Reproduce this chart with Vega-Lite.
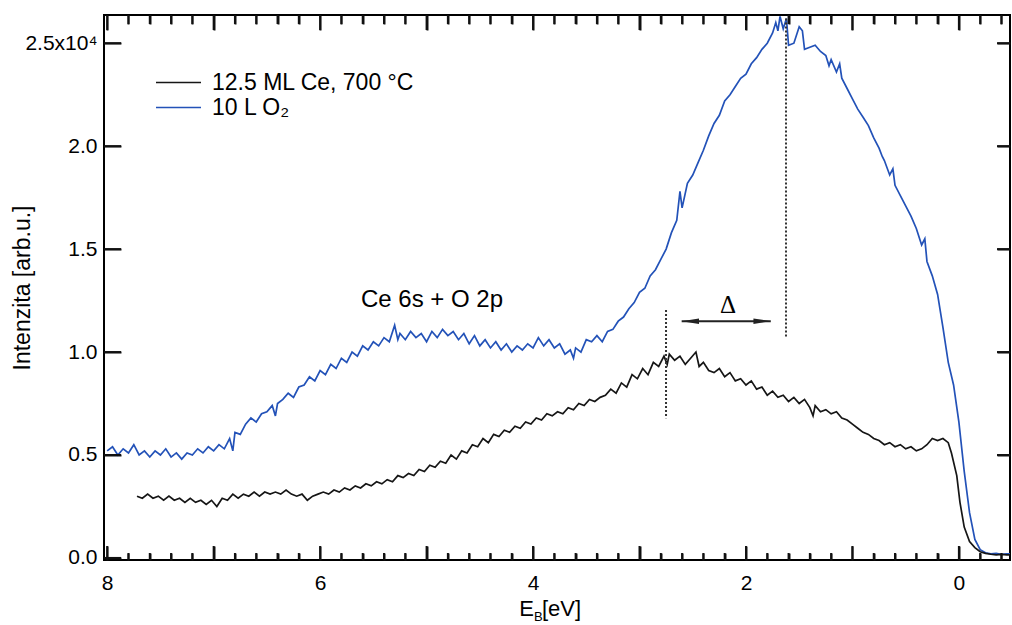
{
  "$schema": "https://vega.github.io/schema/vega-lite/v6.json",
  "width": 906,
  "height": 545,
  "autosize": {"type": "none"},
  "padding": {"left": 104, "top": 15, "right": 2, "bottom": 65},
  "background": "white",
  "config": {
    "font": "Liberation Sans",
    "view": {"stroke": "black", "strokeWidth": 2},
    "axis": {"domain": false, "grid": false, "tickColor": "#111111", "tickWidth": 2, "labelColor": "black", "labelFont": "Liberation Sans", "labelFontSize": 21, "titleFont": "Liberation Sans", "titleFontSize": 23, "titleFontWeight": "normal", "titleColor": "black"}
  },
  "datasets": {
    "majorX": [{"E": 8}, {"E": 7}, {"E": 6}, {"E": 5}, {"E": 4}, {"E": 3}, {"E": 2}, {"E": 1}, {"E": 0}],
    "minorX": [{"E":7.8},{"E":7.6},{"E":7.4},{"E":7.2},{"E":6.8},{"E":6.6},{"E":6.4},{"E":6.2},{"E":5.8},{"E":5.6},{"E":5.4},{"E":5.2},{"E":4.8},{"E":4.6},{"E":4.4},{"E":4.2},{"E":3.8},{"E":3.6},{"E":3.4},{"E":3.2},{"E":2.8},{"E":2.6},{"E":2.4},{"E":2.2},{"E":1.8},{"E":1.6},{"E":1.4},{"E":1.2},{"E":0.8},{"E":0.6},{"E":0.4},{"E":0.2},{"E":-0.2},{"E":-0.4}],
    "majorY": [{"I": 0}, {"I": 0.5}, {"I": 1}, {"I": 1.5}, {"I": 2}, {"I": 2.5}],
    "curves": [
      {"E":8.00,"I":0.52,"s":"O"},{"E":7.95,"I":0.54,"s":"O"},{"E":7.90,"I":0.50,"s":"O"},{"E":7.85,"I":0.53,"s":"O"},{"E":7.80,"I":0.51,"s":"O"},{"E":7.75,"I":0.55,"s":"O"},{"E":7.70,"I":0.50,"s":"O"},{"E":7.65,"I":0.52,"s":"O"},{"E":7.60,"I":0.49,"s":"O"},{"E":7.55,"I":0.52,"s":"O"},{"E":7.50,"I":0.50,"s":"O"},{"E":7.45,"I":0.53,"s":"O"},{"E":7.40,"I":0.49,"s":"O"},{"E":7.35,"I":0.51,"s":"O"},{"E":7.30,"I":0.48,"s":"O"},{"E":7.25,"I":0.51,"s":"O"},{"E":7.20,"I":0.50,"s":"O"},{"E":7.15,"I":0.53,"s":"O"},{"E":7.10,"I":0.51,"s":"O"},{"E":7.05,"I":0.54,"s":"O"},{"E":7.00,"I":0.52,"s":"O"},{"E":6.95,"I":0.55,"s":"O"},{"E":6.90,"I":0.53,"s":"O"},{"E":6.85,"I":0.58,"s":"O"},{"E":6.82,"I":0.52,"s":"O"},{"E":6.80,"I":0.61,"s":"O"},{"E":6.75,"I":0.60,"s":"O"},{"E":6.70,"I":0.65,"s":"O"},{"E":6.65,"I":0.68,"s":"O"},{"E":6.60,"I":0.66,"s":"O"},{"E":6.55,"I":0.70,"s":"O"},{"E":6.50,"I":0.71,"s":"O"},{"E":6.45,"I":0.74,"s":"O"},{"E":6.42,"I":0.69,"s":"O"},{"E":6.40,"I":0.75,"s":"O"},{"E":6.35,"I":0.77,"s":"O"},{"E":6.30,"I":0.80,"s":"O"},{"E":6.25,"I":0.78,"s":"O"},{"E":6.20,"I":0.83,"s":"O"},{"E":6.15,"I":0.84,"s":"O"},{"E":6.10,"I":0.88,"s":"O"},{"E":6.05,"I":0.86,"s":"O"},{"E":6.00,"I":0.91,"s":"O"},{"E":5.95,"I":0.89,"s":"O"},{"E":5.90,"I":0.94,"s":"O"},{"E":5.85,"I":0.92,"s":"O"},{"E":5.80,"I":0.97,"s":"O"},{"E":5.75,"I":0.95,"s":"O"},{"E":5.70,"I":1.00,"s":"O"},{"E":5.65,"I":0.98,"s":"O"},{"E":5.60,"I":1.03,"s":"O"},{"E":5.55,"I":1.01,"s":"O"},{"E":5.50,"I":1.05,"s":"O"},{"E":5.45,"I":1.03,"s":"O"},{"E":5.40,"I":1.07,"s":"O"},{"E":5.35,"I":1.05,"s":"O"},{"E":5.30,"I":1.13,"s":"O"},{"E":5.27,"I":1.06,"s":"O"},{"E":5.25,"I":1.09,"s":"O"},{"E":5.20,"I":1.06,"s":"O"},{"E":5.15,"I":1.10,"s":"O"},{"E":5.10,"I":1.07,"s":"O"},{"E":5.05,"I":1.09,"s":"O"},{"E":5.00,"I":1.05,"s":"O"},{"E":4.95,"I":1.10,"s":"O"},{"E":4.90,"I":1.07,"s":"O"},{"E":4.85,"I":1.11,"s":"O"},{"E":4.80,"I":1.08,"s":"O"},{"E":4.75,"I":1.10,"s":"O"},{"E":4.70,"I":1.06,"s":"O"},{"E":4.65,"I":1.09,"s":"O"},{"E":4.60,"I":1.04,"s":"O"},{"E":4.55,"I":1.08,"s":"O"},{"E":4.50,"I":1.03,"s":"O"},{"E":4.45,"I":1.06,"s":"O"},{"E":4.40,"I":1.02,"s":"O"},{"E":4.35,"I":1.05,"s":"O"},{"E":4.30,"I":1.01,"s":"O"},{"E":4.25,"I":1.04,"s":"O"},{"E":4.20,"I":1.00,"s":"O"},{"E":4.15,"I":1.03,"s":"O"},{"E":4.10,"I":1.01,"s":"O"},{"E":4.05,"I":1.04,"s":"O"},{"E":4.00,"I":1.02,"s":"O"},{"E":3.95,"I":1.07,"s":"O"},{"E":3.90,"I":1.03,"s":"O"},{"E":3.85,"I":1.06,"s":"O"},{"E":3.80,"I":1.02,"s":"O"},{"E":3.75,"I":1.04,"s":"O"},{"E":3.70,"I":0.99,"s":"O"},{"E":3.65,"I":1.01,"s":"O"},{"E":3.62,"I":0.97,"s":"O"},{"E":3.60,"I":1.02,"s":"O"},{"E":3.55,"I":1.00,"s":"O"},{"E":3.50,"I":1.06,"s":"O"},{"E":3.45,"I":1.05,"s":"O"},{"E":3.40,"I":1.08,"s":"O"},{"E":3.35,"I":1.05,"s":"O"},{"E":3.30,"I":1.10,"s":"O"},{"E":3.25,"I":1.11,"s":"O"},{"E":3.20,"I":1.15,"s":"O"},{"E":3.15,"I":1.17,"s":"O"},{"E":3.10,"I":1.21,"s":"O"},{"E":3.05,"I":1.24,"s":"O"},{"E":3.00,"I":1.29,"s":"O"},{"E":2.95,"I":1.31,"s":"O"},{"E":2.90,"I":1.37,"s":"O"},{"E":2.85,"I":1.40,"s":"O"},{"E":2.80,"I":1.45,"s":"O"},{"E":2.75,"I":1.50,"s":"O"},{"E":2.70,"I":1.58,"s":"O"},{"E":2.65,"I":1.64,"s":"O"},{"E":2.62,"I":1.78,"s":"O"},{"E":2.60,"I":1.70,"s":"O"},{"E":2.55,"I":1.82,"s":"O"},{"E":2.50,"I":1.86,"s":"O"},{"E":2.45,"I":1.92,"s":"O"},{"E":2.40,"I":1.98,"s":"O"},{"E":2.35,"I":2.05,"s":"O"},{"E":2.30,"I":2.11,"s":"O"},{"E":2.25,"I":2.15,"s":"O"},{"E":2.20,"I":2.22,"s":"O"},{"E":2.15,"I":2.25,"s":"O"},{"E":2.10,"I":2.29,"s":"O"},{"E":2.05,"I":2.33,"s":"O"},{"E":2.00,"I":2.35,"s":"O"},{"E":1.95,"I":2.40,"s":"O"},{"E":1.90,"I":2.43,"s":"O"},{"E":1.85,"I":2.47,"s":"O"},{"E":1.80,"I":2.50,"s":"O"},{"E":1.75,"I":2.55,"s":"O"},{"E":1.72,"I":2.60,"s":"O"},{"E":1.70,"I":2.56,"s":"O"},{"E":1.68,"I":2.63,"s":"O"},{"E":1.65,"I":2.57,"s":"O"},{"E":1.62,"I":2.62,"s":"O"},{"E":1.60,"I":2.49,"s":"O"},{"E":1.55,"I":2.50,"s":"O"},{"E":1.50,"I":2.58,"s":"O"},{"E":1.47,"I":2.56,"s":"O"},{"E":1.45,"I":2.47,"s":"O"},{"E":1.40,"I":2.48,"s":"O"},{"E":1.35,"I":2.49,"s":"O"},{"E":1.30,"I":2.46,"s":"O"},{"E":1.25,"I":2.44,"s":"O"},{"E":1.22,"I":2.39,"s":"O"},{"E":1.20,"I":2.42,"s":"O"},{"E":1.15,"I":2.36,"s":"O"},{"E":1.12,"I":2.40,"s":"O"},{"E":1.10,"I":2.33,"s":"O"},{"E":1.05,"I":2.28,"s":"O"},{"E":1.00,"I":2.23,"s":"O"},{"E":0.95,"I":2.18,"s":"O"},{"E":0.90,"I":2.14,"s":"O"},{"E":0.85,"I":2.10,"s":"O"},{"E":0.80,"I":2.04,"s":"O"},{"E":0.75,"I":1.99,"s":"O"},{"E":0.72,"I":1.95,"s":"O"},{"E":0.70,"I":1.93,"s":"O"},{"E":0.65,"I":1.86,"s":"O"},{"E":0.62,"I":1.89,"s":"O"},{"E":0.60,"I":1.81,"s":"O"},{"E":0.55,"I":1.76,"s":"O"},{"E":0.50,"I":1.71,"s":"O"},{"E":0.45,"I":1.66,"s":"O"},{"E":0.40,"I":1.60,"s":"O"},{"E":0.35,"I":1.52,"s":"O"},{"E":0.32,"I":1.55,"s":"O"},{"E":0.30,"I":1.44,"s":"O"},{"E":0.25,"I":1.37,"s":"O"},{"E":0.20,"I":1.28,"s":"O"},{"E":0.15,"I":1.12,"s":"O"},{"E":0.10,"I":0.95,"s":"O"},{"E":0.05,"I":0.84,"s":"O"},{"E":0.00,"I":0.66,"s":"O"},{"E":-0.05,"I":0.42,"s":"O"},{"E":-0.10,"I":0.22,"s":"O"},{"E":-0.15,"I":0.09,"s":"O"},{"E":-0.20,"I":0.04,"s":"O"},{"E":-0.25,"I":0.025,"s":"O"},{"E":-0.30,"I":0.02,"s":"O"},{"E":-0.35,"I":0.022,"s":"O"},{"E":-0.40,"I":0.018,"s":"O"},{"E":-0.45,"I":0.02,"s":"O"},{"E":-0.48,"I":0.02,"s":"O"},
      {"E":7.72,"I":0.30,"s":"Ce"},{"E":7.67,"I":0.29,"s":"Ce"},{"E":7.62,"I":0.31,"s":"Ce"},{"E":7.57,"I":0.29,"s":"Ce"},{"E":7.52,"I":0.30,"s":"Ce"},{"E":7.47,"I":0.28,"s":"Ce"},{"E":7.42,"I":0.30,"s":"Ce"},{"E":7.37,"I":0.28,"s":"Ce"},{"E":7.32,"I":0.29,"s":"Ce"},{"E":7.27,"I":0.27,"s":"Ce"},{"E":7.22,"I":0.29,"s":"Ce"},{"E":7.17,"I":0.27,"s":"Ce"},{"E":7.12,"I":0.28,"s":"Ce"},{"E":7.07,"I":0.26,"s":"Ce"},{"E":7.02,"I":0.28,"s":"Ce"},{"E":6.97,"I":0.25,"s":"Ce"},{"E":6.92,"I":0.29,"s":"Ce"},{"E":6.87,"I":0.28,"s":"Ce"},{"E":6.82,"I":0.31,"s":"Ce"},{"E":6.77,"I":0.29,"s":"Ce"},{"E":6.72,"I":0.31,"s":"Ce"},{"E":6.67,"I":0.30,"s":"Ce"},{"E":6.62,"I":0.32,"s":"Ce"},{"E":6.57,"I":0.30,"s":"Ce"},{"E":6.52,"I":0.32,"s":"Ce"},{"E":6.47,"I":0.31,"s":"Ce"},{"E":6.42,"I":0.32,"s":"Ce"},{"E":6.37,"I":0.31,"s":"Ce"},{"E":6.32,"I":0.33,"s":"Ce"},{"E":6.27,"I":0.31,"s":"Ce"},{"E":6.22,"I":0.30,"s":"Ce"},{"E":6.17,"I":0.31,"s":"Ce"},{"E":6.12,"I":0.28,"s":"Ce"},{"E":6.07,"I":0.30,"s":"Ce"},{"E":6.02,"I":0.31,"s":"Ce"},{"E":5.97,"I":0.32,"s":"Ce"},{"E":5.92,"I":0.31,"s":"Ce"},{"E":5.87,"I":0.33,"s":"Ce"},{"E":5.82,"I":0.32,"s":"Ce"},{"E":5.77,"I":0.34,"s":"Ce"},{"E":5.72,"I":0.33,"s":"Ce"},{"E":5.67,"I":0.35,"s":"Ce"},{"E":5.62,"I":0.34,"s":"Ce"},{"E":5.57,"I":0.36,"s":"Ce"},{"E":5.52,"I":0.35,"s":"Ce"},{"E":5.47,"I":0.37,"s":"Ce"},{"E":5.42,"I":0.36,"s":"Ce"},{"E":5.37,"I":0.38,"s":"Ce"},{"E":5.32,"I":0.37,"s":"Ce"},{"E":5.27,"I":0.40,"s":"Ce"},{"E":5.22,"I":0.39,"s":"Ce"},{"E":5.17,"I":0.41,"s":"Ce"},{"E":5.12,"I":0.40,"s":"Ce"},{"E":5.07,"I":0.43,"s":"Ce"},{"E":5.02,"I":0.42,"s":"Ce"},{"E":4.97,"I":0.45,"s":"Ce"},{"E":4.92,"I":0.44,"s":"Ce"},{"E":4.87,"I":0.47,"s":"Ce"},{"E":4.82,"I":0.46,"s":"Ce"},{"E":4.77,"I":0.50,"s":"Ce"},{"E":4.72,"I":0.48,"s":"Ce"},{"E":4.67,"I":0.52,"s":"Ce"},{"E":4.62,"I":0.51,"s":"Ce"},{"E":4.57,"I":0.55,"s":"Ce"},{"E":4.52,"I":0.54,"s":"Ce"},{"E":4.47,"I":0.58,"s":"Ce"},{"E":4.42,"I":0.56,"s":"Ce"},{"E":4.37,"I":0.60,"s":"Ce"},{"E":4.32,"I":0.59,"s":"Ce"},{"E":4.27,"I":0.62,"s":"Ce"},{"E":4.22,"I":0.61,"s":"Ce"},{"E":4.17,"I":0.64,"s":"Ce"},{"E":4.12,"I":0.63,"s":"Ce"},{"E":4.07,"I":0.66,"s":"Ce"},{"E":4.02,"I":0.65,"s":"Ce"},{"E":3.97,"I":0.68,"s":"Ce"},{"E":3.92,"I":0.67,"s":"Ce"},{"E":3.87,"I":0.70,"s":"Ce"},{"E":3.82,"I":0.69,"s":"Ce"},{"E":3.77,"I":0.71,"s":"Ce"},{"E":3.72,"I":0.70,"s":"Ce"},{"E":3.67,"I":0.73,"s":"Ce"},{"E":3.62,"I":0.72,"s":"Ce"},{"E":3.57,"I":0.75,"s":"Ce"},{"E":3.52,"I":0.74,"s":"Ce"},{"E":3.47,"I":0.77,"s":"Ce"},{"E":3.42,"I":0.76,"s":"Ce"},{"E":3.37,"I":0.78,"s":"Ce"},{"E":3.32,"I":0.79,"s":"Ce"},{"E":3.27,"I":0.82,"s":"Ce"},{"E":3.22,"I":0.80,"s":"Ce"},{"E":3.17,"I":0.85,"s":"Ce"},{"E":3.12,"I":0.83,"s":"Ce"},{"E":3.07,"I":0.89,"s":"Ce"},{"E":3.02,"I":0.87,"s":"Ce"},{"E":2.97,"I":0.92,"s":"Ce"},{"E":2.92,"I":0.89,"s":"Ce"},{"E":2.87,"I":0.95,"s":"Ce"},{"E":2.82,"I":0.93,"s":"Ce"},{"E":2.77,"I":0.98,"s":"Ce"},{"E":2.74,"I":0.94,"s":"Ce"},{"E":2.72,"I":0.99,"s":"Ce"},{"E":2.67,"I":0.96,"s":"Ce"},{"E":2.62,"I":0.98,"s":"Ce"},{"E":2.57,"I":0.94,"s":"Ce"},{"E":2.52,"I":0.97,"s":"Ce"},{"E":2.47,"I":1.00,"s":"Ce"},{"E":2.44,"I":0.93,"s":"Ce"},{"E":2.40,"I":0.95,"s":"Ce"},{"E":2.35,"I":0.91,"s":"Ce"},{"E":2.30,"I":0.90,"s":"Ce"},{"E":2.25,"I":0.92,"s":"Ce"},{"E":2.20,"I":0.88,"s":"Ce"},{"E":2.15,"I":0.90,"s":"Ce"},{"E":2.10,"I":0.86,"s":"Ce"},{"E":2.05,"I":0.87,"s":"Ce"},{"E":2.00,"I":0.84,"s":"Ce"},{"E":1.95,"I":0.86,"s":"Ce"},{"E":1.90,"I":0.82,"s":"Ce"},{"E":1.85,"I":0.83,"s":"Ce"},{"E":1.80,"I":0.79,"s":"Ce"},{"E":1.75,"I":0.81,"s":"Ce"},{"E":1.70,"I":0.78,"s":"Ce"},{"E":1.65,"I":0.79,"s":"Ce"},{"E":1.60,"I":0.76,"s":"Ce"},{"E":1.55,"I":0.78,"s":"Ce"},{"E":1.50,"I":0.75,"s":"Ce"},{"E":1.45,"I":0.77,"s":"Ce"},{"E":1.40,"I":0.73,"s":"Ce"},{"E":1.37,"I":0.69,"s":"Ce"},{"E":1.35,"I":0.74,"s":"Ce"},{"E":1.30,"I":0.71,"s":"Ce"},{"E":1.25,"I":0.72,"s":"Ce"},{"E":1.20,"I":0.70,"s":"Ce"},{"E":1.15,"I":0.71,"s":"Ce"},{"E":1.10,"I":0.68,"s":"Ce"},{"E":1.05,"I":0.67,"s":"Ce"},{"E":1.00,"I":0.65,"s":"Ce"},{"E":0.95,"I":0.63,"s":"Ce"},{"E":0.90,"I":0.61,"s":"Ce"},{"E":0.85,"I":0.60,"s":"Ce"},{"E":0.80,"I":0.58,"s":"Ce"},{"E":0.75,"I":0.57,"s":"Ce"},{"E":0.70,"I":0.55,"s":"Ce"},{"E":0.65,"I":0.56,"s":"Ce"},{"E":0.60,"I":0.54,"s":"Ce"},{"E":0.55,"I":0.55,"s":"Ce"},{"E":0.50,"I":0.53,"s":"Ce"},{"E":0.45,"I":0.54,"s":"Ce"},{"E":0.40,"I":0.52,"s":"Ce"},{"E":0.35,"I":0.53,"s":"Ce"},{"E":0.30,"I":0.55,"s":"Ce"},{"E":0.25,"I":0.58,"s":"Ce"},{"E":0.20,"I":0.57,"s":"Ce"},{"E":0.15,"I":0.58,"s":"Ce"},{"E":0.10,"I":0.56,"s":"Ce"},{"E":0.07,"I":0.51,"s":"Ce"},{"E":0.02,"I":0.40,"s":"Ce"},{"E":-0.01,"I":0.27,"s":"Ce"},{"E":-0.05,"I":0.15,"s":"Ce"},{"E":-0.10,"I":0.08,"s":"Ce"},{"E":-0.15,"I":0.05,"s":"Ce"},{"E":-0.20,"I":0.03,"s":"Ce"},{"E":-0.25,"I":0.022,"s":"Ce"},{"E":-0.30,"I":0.018,"s":"Ce"},{"E":-0.35,"I":0.015,"s":"Ce"},{"E":-0.40,"I":0.017,"s":"Ce"},{"E":-0.45,"I":0.015,"s":"Ce"},{"E":-0.48,"I":0.015,"s":"Ce"}
    ]
  },
  "resolve": {"axis": {"x": "independent", "y": "independent"}},
  "layer": [
    {
      "data": {"name": "curves"},
      "mark": {"type": "line", "strokeWidth": 1.7},
      "encoding": {
        "x": {"field": "E", "type": "quantitative", "scale": {"domain": [8.03, -0.48], "nice": false, "zero": false},
          "axis": {"orient": "bottom", "title": null, "values": [8, 6, 4, 2, 0], "ticks": false, "labelFontSize": 21,
            "format": "d", "labelPadding": 12, "labelOverlap": false, "labelFlush": false}},
        "y": {"field": "I", "type": "quantitative", "scale": {"domain": [-0.01, 2.637], "nice": false, "zero": false},
          "axis": {"orient": "left", "title": "Intenzita [arb.u.]", "values": [0, 0.5, 1, 1.5, 2, 2.5], "ticks": false, "labelFontSize": 21, "labelPadding": 7,
            "labelExpr": "datum.value == 2.5 ? '2.5x10⁴' : format(datum.value, '.1f')", "titleX": -82, "titleBaseline": "middle", "titleFontSize": 23, "labelOverlap": false, "labelFlush": false}},
        "color": {"field": "s", "type": "nominal", "scale": {"domain": ["Ce", "O"], "range": ["#161616", "#2352b8"]},
          "legend": {"orient": "none", "legendX": 62, "legendY": 55, "padding": 0, "title": null, "symbolType": "M-2,0L2,0", "symbolSize": 506, "symbolStrokeWidth": 1.7, "labelFontSize": 23, "labelFont": "Liberation Sans", "labelColor": "black", "labelOffset": 21, "labelLimit": 400, "rowPadding": 0,
            "labelExpr": "datum.label == 'Ce' ? '12.5 ML Ce, 700 °C' : '10 L O₂'"}}
      }
    },
    {
      "data": {"name": "majorX"},
      "mark": {"type": "tick", "orient": "vertical", "size": 14, "thickness": 2, "color": "#111111", "opacity": 1},
      "encoding": {
        "x": {"field": "E", "type": "quantitative",
          "axis": {"orient": "bottom", "title": null, "labels": false, "ticks": true, "values": [8, 7, 6, 5, 4, 3, 2, 1, 0], "tickSize": 14, "offset": -14}},
        "y": {"datum": 0.024, "type": "quantitative",
          "axis": {"orient": "left", "title": null, "labels": false, "ticks": true, "values": [0, 0.5, 1, 1.5, 2, 2.5], "tickSize": 17, "offset": -17}}
      }
    },
    {
      "data": {"name": "minorX"},
      "mark": {"type": "tick", "orient": "vertical", "size": 7, "thickness": 2, "color": "#111111", "opacity": 1},
      "encoding": {
        "x": {"field": "E", "type": "quantitative",
          "axis": {"orient": "bottom", "title": null, "labels": false, "ticks": true, "values": [7.8,7.6,7.4,7.2,6.8,6.6,6.4,6.2,5.8,5.6,5.4,5.2,4.8,4.6,4.4,4.2,3.8,3.6,3.4,3.2,2.8,2.6,2.4,2.2,1.8,1.6,1.4,1.2,0.8,0.6,0.4,0.2,-0.2,-0.4], "tickSize": 7, "offset": -7}},
        "y": {"datum": 0.007, "type": "quantitative",
          "axis": {"orient": "right", "title": null, "labels": false, "ticks": true, "values": [0.5, 1, 1.5, 2, 2.5], "tickSize": 13, "offset": -13}}
      }
    },
    {
      "data": {"name": "majorX"},
      "mark": {"type": "tick", "orient": "vertical", "size": 15, "thickness": 2, "color": "#111111", "opacity": 1},
      "encoding": {
        "x": {"field": "E", "type": "quantitative",
          "axis": {"orient": "top", "title": null, "labels": false, "ticks": true, "values": [8, 7, 6, 5, 4, 3, 2, 1, 0], "tickSize": 15, "offset": -15}},
        "y": {"datum": 2.6006, "type": "quantitative", "axis": null}
      }
    },
    {
      "data": {"name": "minorX"},
      "mark": {"type": "tick", "orient": "vertical", "size": 9, "thickness": 2, "color": "#111111", "opacity": 1},
      "encoding": {
        "x": {"field": "E", "type": "quantitative",
          "axis": {"orient": "top", "title": null, "labels": false, "ticks": true, "values": [7.8,7.6,7.4,7.2,6.8,6.6,6.4,6.2,5.8,5.6,5.4,5.2,4.8,4.6,4.4,4.2,3.8,3.6,3.4,3.2,2.8,2.6,2.4,2.2,1.8,1.6,1.4,1.2,0.8,0.6,0.4,0.2,-0.2,-0.4], "tickSize": 9, "offset": -9}},
        "y": {"datum": 2.615, "type": "quantitative", "axis": null}
      }
    },
    {
      "data": {"name": "majorY"},
      "mark": {"type": "tick", "orient": "horizontal", "size": 17, "thickness": 2, "color": "#111111", "opacity": 1},
      "encoding": {
        "y": {"field": "I", "type": "quantitative", "axis": null},
        "x": {"datum": 7.95, "type": "quantitative", "axis": null}
      }
    },
    {
      "data": {"name": "majorY"},
      "transform": [{"filter": "datum.I > 0"}],
      "mark": {"type": "tick", "orient": "horizontal", "size": 13, "thickness": 2, "color": "#111111", "opacity": 1},
      "encoding": {
        "y": {"field": "I", "type": "quantitative", "axis": null},
        "x": {"datum": -0.419, "type": "quantitative", "axis": null}
      }
    },
    {
      "data": {"values": [{"E": 2.751, "y": 1.204, "y2": 0.679}, {"E": 1.624, "y": 2.62, "y2": 1.068}]},
      "mark": {"type": "rule", "strokeDash": [2, 2], "strokeWidth": 2, "color": "#333333"},
      "encoding": {
        "x": {"field": "E", "type": "quantitative", "axis": null},
        "y": {"field": "y", "type": "quantitative", "axis": null},
        "y2": {"field": "y2"}
      }
    },
    {
      "data": {"values": [{"E": 2.604, "E2": 1.767, "y": 1.15}]},
      "mark": {"type": "rule", "strokeWidth": 2, "color": "#222222"},
      "encoding": {
        "x": {"field": "E", "type": "quantitative", "axis": null},
        "x2": {"field": "E2"},
        "y": {"field": "y", "type": "quantitative", "axis": null}
      }
    },
    {
      "data": {"values": [{"E": 2.604, "y": 1.15}]},
      "mark": {"type": "point", "shape": "M0,0L2,-0.32L2,0.32Z", "size": 300, "filled": true, "color": "#222222", "opacity": 1},
      "encoding": {
        "x": {"field": "E", "type": "quantitative", "axis": null},
        "y": {"field": "y", "type": "quantitative", "axis": null}
      }
    },
    {
      "data": {"values": [{"E": 1.767, "y": 1.15}]},
      "mark": {"type": "point", "shape": "M0,0L-2,-0.32L-2,0.32Z", "size": 300, "filled": true, "color": "#222222", "opacity": 1},
      "encoding": {
        "x": {"field": "E", "type": "quantitative", "axis": null},
        "y": {"field": "y", "type": "quantitative", "axis": null}
      }
    },
    {
      "data": {"values": [{"E": 4.949, "y": 1.253, "t": "Ce 6s + O 2p"}]},
      "mark": {"type": "text", "font": "Liberation Sans", "fontSize": 24, "color": "black", "align": "center", "baseline": "middle"},
      "encoding": {
        "x": {"field": "E", "type": "quantitative", "axis": null},
        "y": {"field": "y", "type": "quantitative", "axis": null},
        "text": {"field": "t"}
      }
    },
    {
      "data": {"values": [{"E": 2.169, "y": 1.228, "t": "Δ"}]},
      "mark": {"type": "text", "font": "Liberation Serif", "fontSize": 25, "color": "black", "align": "center", "baseline": "middle"},
      "encoding": {
        "x": {"field": "E", "type": "quantitative", "axis": null},
        "y": {"field": "y", "type": "quantitative", "axis": null},
        "text": {"field": "t"}
      }
    },
    {
      "data": {"values": [{"E": 3.991, "y": -0.25, "t": "E"}]},
      "mark": {"type": "text", "font": "Liberation Sans", "fontSize": 22, "color": "black", "align": "right", "baseline": "middle"},
      "encoding": {
        "x": {"field": "E", "type": "quantitative", "axis": null},
        "y": {"field": "y", "type": "quantitative", "axis": null},
        "text": {"field": "t"}
      }
    },
    {
      "data": {"values": [{"E": 3.991, "y": -0.285, "t": "B"}]},
      "mark": {"type": "text", "font": "Liberation Sans", "fontSize": 13, "color": "black", "align": "left", "baseline": "middle"},
      "encoding": {
        "x": {"field": "E", "type": "quantitative", "axis": null},
        "y": {"field": "y", "type": "quantitative", "axis": null},
        "text": {"field": "t"}
      }
    },
    {
      "data": {"values": [{"E": 3.916, "y": -0.25, "t": "[eV]"}]},
      "mark": {"type": "text", "font": "Liberation Sans", "fontSize": 22, "color": "black", "align": "left", "baseline": "middle"},
      "encoding": {
        "x": {"field": "E", "type": "quantitative", "axis": null},
        "y": {"field": "y", "type": "quantitative", "axis": null},
        "text": {"field": "t"}
      }
    }
  ]
}
